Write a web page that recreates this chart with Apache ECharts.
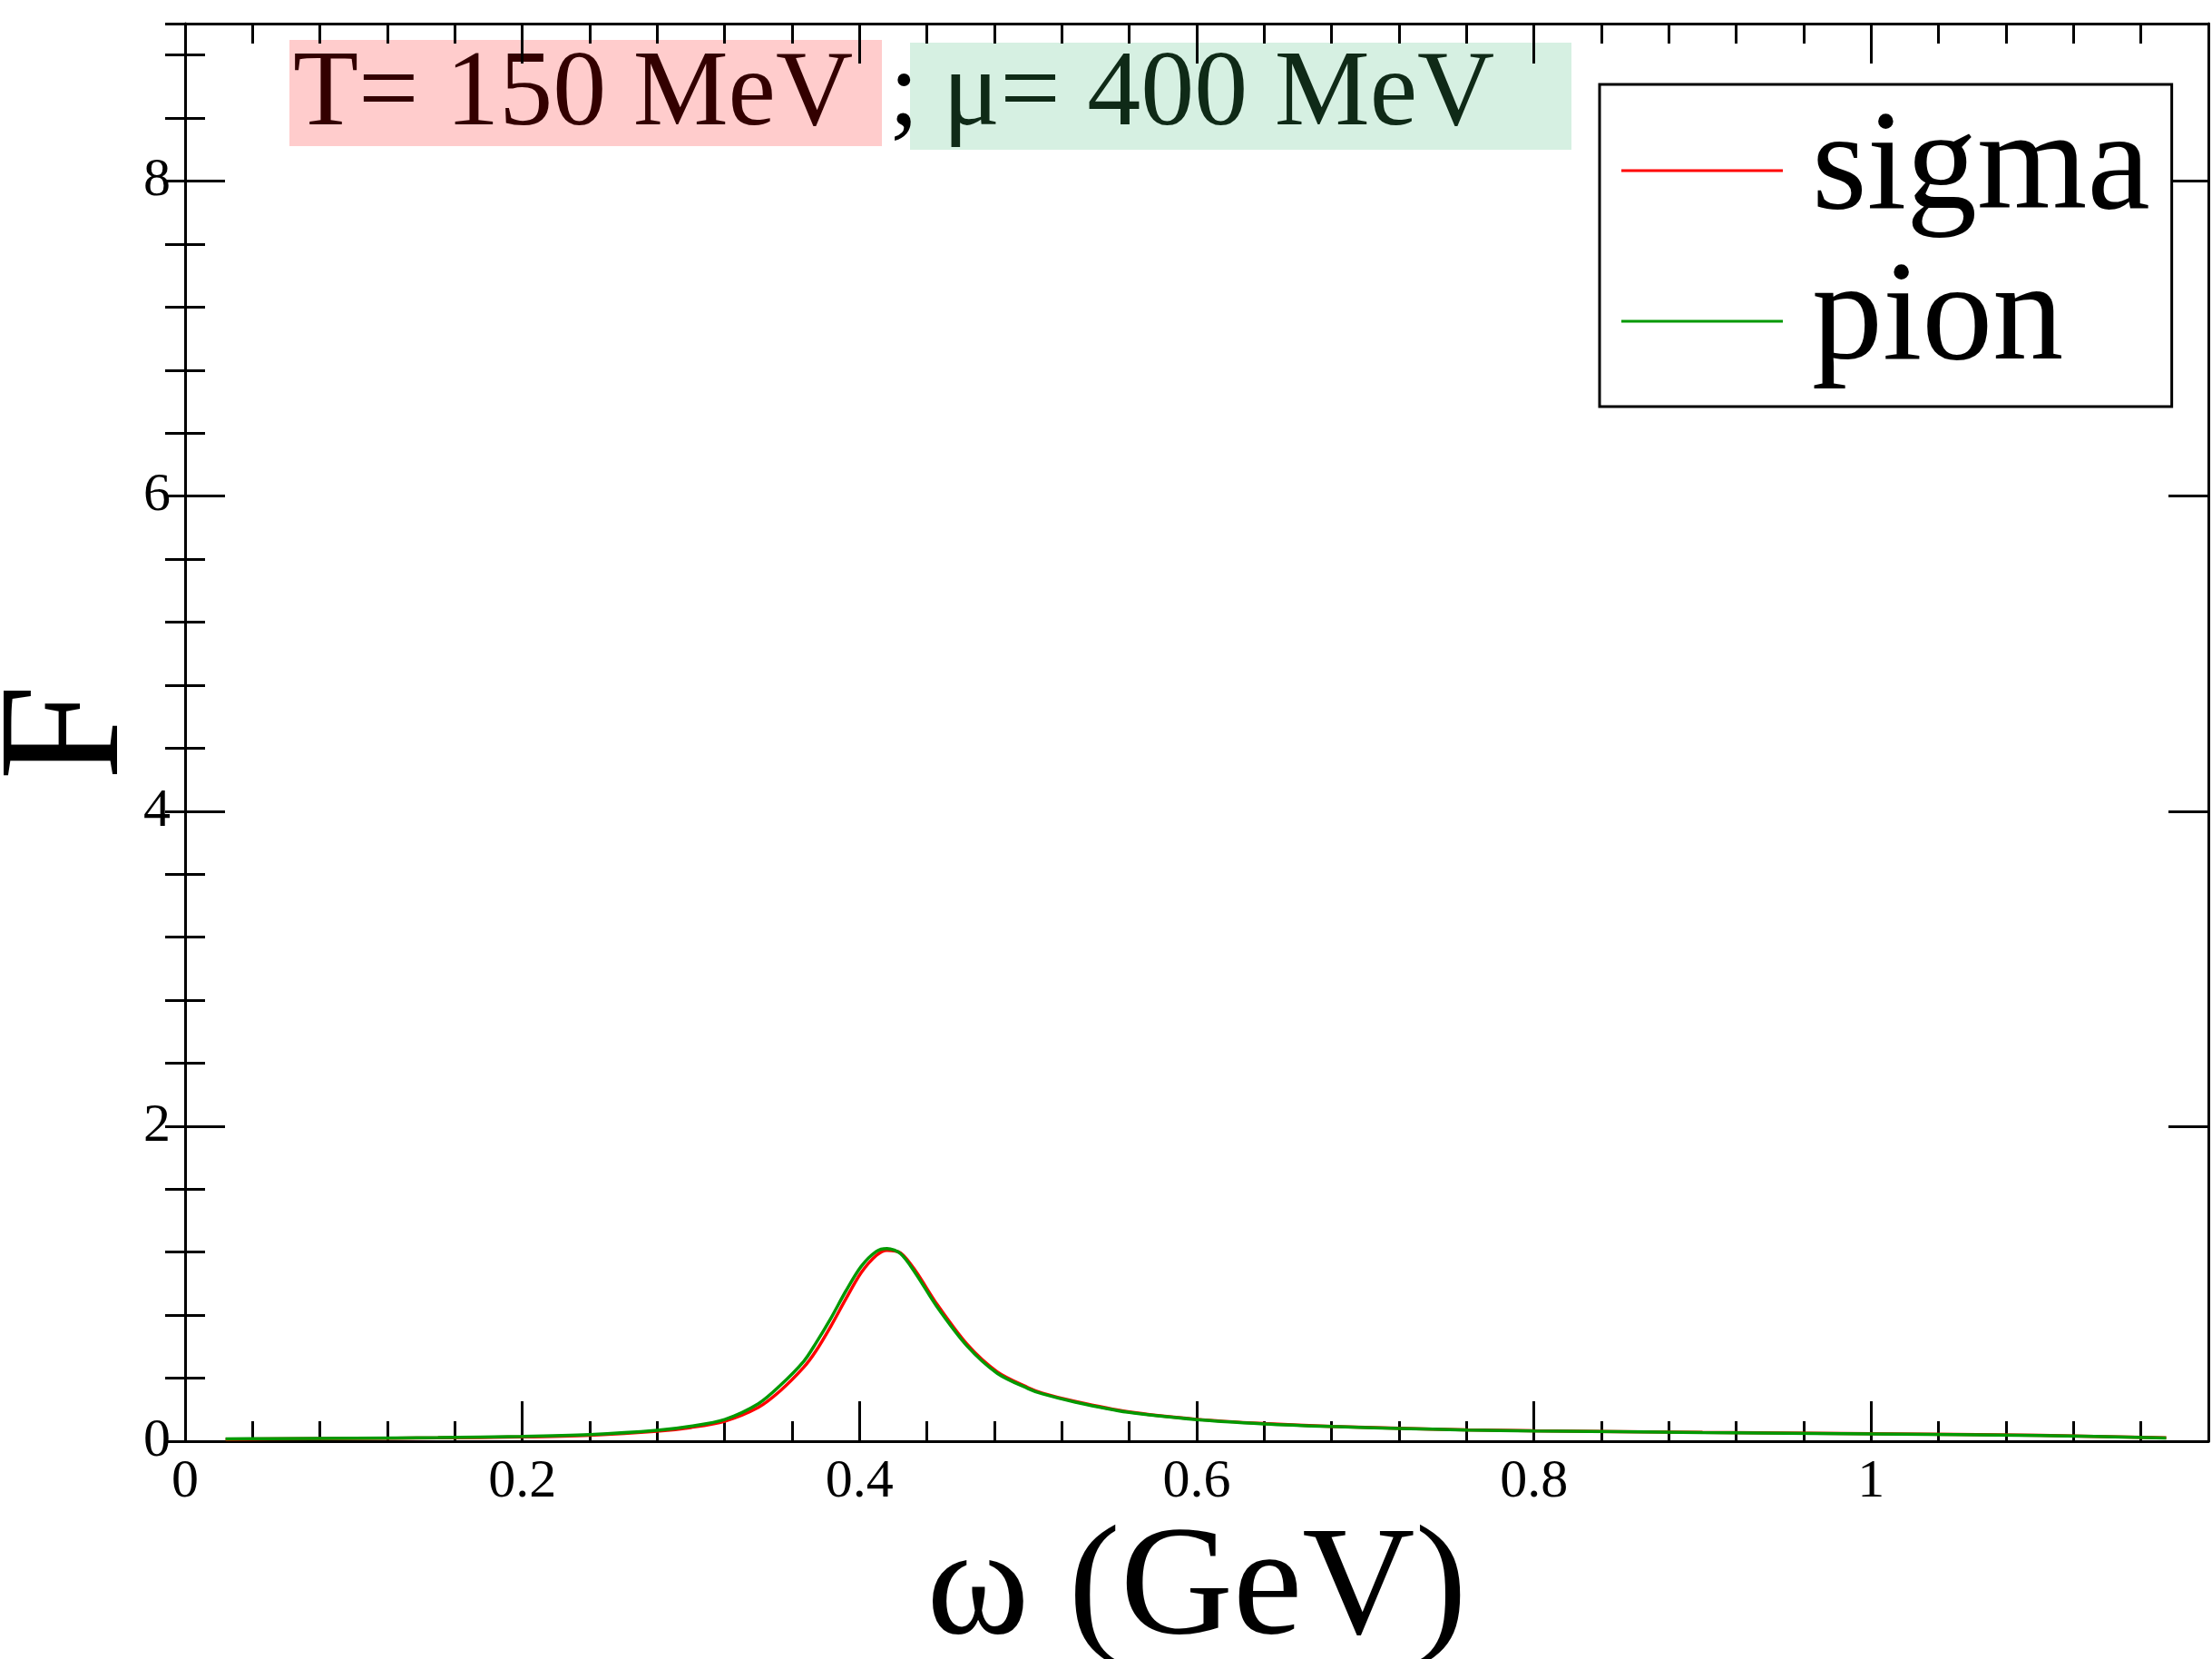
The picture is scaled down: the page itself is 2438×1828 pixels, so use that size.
<!DOCTYPE html>
<html>
<head>
<meta charset="utf-8">
<script src="https://cdn.jsdelivr.net/npm/echarts@6/dist/echarts.min.js"></script>
<style>html,body{margin:0;padding:0;background:#fff}#c{width:2438px;height:1828px}</style>
</head>
<body>
<div id="c"></div>
<script>
var omega = [0.024, 0.05, 0.1, 0.15, 0.2, 0.24, 0.28, 0.30, 0.32, 0.34, 0.353, 0.367, 0.374, 0.383, 0.392, 0.401, 0.410, 0.4163, 0.4244, 0.4333, 0.4459, 0.4638, 0.4817, 0.50, 0.5086, 0.528, 0.559, 0.60, 0.64, 0.68, 0.72, 0.76, 0.80, 0.90, 1.0, 1.1, 1.175];
var sigmaF = [0.012, 0.014, 0.017, 0.021, 0.027, 0.038, 0.063, 0.087, 0.127, 0.215, 0.32, 0.47, 0.57, 0.73, 0.905, 1.07, 1.18, 1.212, 1.195, 1.08, 0.87, 0.615, 0.44, 0.34, 0.305, 0.252, 0.187, 0.139, 0.112, 0.094, 0.082, 0.072, 0.066, 0.056, 0.047, 0.037, 0.021];
var pionF = [0.014, 0.016, 0.019, 0.023, 0.030, 0.042, 0.069, 0.095, 0.138, 0.238, 0.354, 0.508, 0.62, 0.78, 0.955, 1.11, 1.205, 1.223, 1.19, 1.065, 0.854, 0.604, 0.431, 0.334, 0.30, 0.248, 0.184, 0.137, 0.110, 0.093, 0.081, 0.071, 0.065, 0.055, 0.046, 0.036, 0.020];
var seriesNames = ['sigma', 'pion'];
var xTitle = 'ω (GeV)';
var yTitle = 'F';
var noteT = 'T= 150 MeV';
var noteMu = 'μ= 400 MeV';

function pairs(xs, ys) { return xs.map(function (x, i) { return [x, ys[i]]; }); }

var FONT = 'Liberation Serif, Times New Roman, serif';
var chart = echarts.init(document.getElementById('c'), null, { renderer: 'canvas' });
var lineAx = { show: true, onZero: false, lineStyle: { color: '#000', width: 3 } };
chart.setOption({
  animation: false,
  backgroundColor: '#fff',
  grid: { left: 204, right: 4, top: 26, bottom: 240, containLabel: false, outerBoundsMode: 'none' },
  legend: {
    data: seriesNames,
    orient: 'vertical',
    left: 1763, top: 93,
    padding: [12, 24, 11, 24],
    itemGap: 0,
    icon: 'rect',
    itemWidth: 178, itemHeight: 3,
    borderColor: '#000', borderWidth: 3,
    backgroundColor: '#fff',
    textStyle: { fontFamily: FONT, fontSize: 156, color: '#000', lineHeight: 166, padding: [0, 0, 0, 27] }
  },
  xAxis: [
    { type: 'value', position: 'bottom', min: 0, max: 1.2, interval: 0.2,
      axisLine: lineAx,
      axisTick: { show: true, inside: true, length: 44, lineStyle: { color: '#000', width: 3 } },
      minorTick: { show: true, splitNumber: 5, length: 22, lineStyle: { color: '#000', width: 3 } },
      axisLabel: { show: true, margin: 15, fontFamily: FONT, fontSize: 60, color: '#000', showMaxLabel: false },
      splitLine: { show: false },
      name: xTitle, nameLocation: 'middle', nameGap: 54,
      nameTextStyle: { fontFamily: FONT, fontSize: 172, color: '#000' } },
    { type: 'value', position: 'top', min: 0, max: 1.2, interval: 0.2,
      axisLine: lineAx,
      axisTick: { show: true, inside: true, length: 44, lineStyle: { color: '#000', width: 3 } },
      minorTick: { show: true, splitNumber: 5, length: 22, lineStyle: { color: '#000', width: 3 } },
      axisLabel: { show: false }, splitLine: { show: false } }
  ],
  yAxis: [
    { type: 'value', position: 'left', min: 0, max: 9, interval: 2,
      axisLine: lineAx,
      axisTick: { show: true, inside: true, length: 44, lineStyle: { color: '#000', width: 3 } },
      axisLabel: { show: true, margin: 16, fontFamily: FONT, fontSize: 60, color: '#000', showMaxLabel: false },
      splitLine: { show: false },
      name: yTitle, nameLocation: 'middle', nameGap: 30, nameRotate: 90, nameMoveOverlap: false,
      nameTextStyle: { fontFamily: FONT, fontSize: 190, color: '#000' } },
    { type: 'value', position: 'left', min: 0, max: 9, interval: 0.4,
      axisLine: { show: false },
      axisTick: { show: true, inside: true, length: 22, lineStyle: { color: '#000', width: 3 } },
      axisLabel: { show: false }, splitLine: { show: false } },
    { type: 'value', position: 'right', min: 0, max: 9, interval: 2,
      axisLine: lineAx,
      axisTick: { show: true, inside: true, length: 44, lineStyle: { color: '#000', width: 3 } },
      axisLabel: { show: false }, splitLine: { show: false } },
    { type: 'value', position: 'right', min: 0, max: 9, interval: 0.4,
      axisLine: { show: false },
      axisTick: { show: true, inside: true, length: 22, lineStyle: { color: '#000', width: 3 } },
      axisLabel: { show: false }, splitLine: { show: false } }
  ],
  series: [
    { name: seriesNames[0], type: 'line', xAxisIndex: 0, yAxisIndex: 0, data: pairs(omega, sigmaF),
      showSymbol: false, symbol: 'none', smooth: 0.3, color: '#ff0000', lineStyle: { color: '#ff0000', width: 3.5 }, z: 3 },
    { name: seriesNames[1], type: 'line', xAxisIndex: 0, yAxisIndex: 0, data: pairs(omega, pionF),
      showSymbol: false, symbol: 'none', smooth: 0.3, color: '#009900', lineStyle: { color: '#009900', width: 3.5 }, z: 4 }
  ],
  graphic: [
    { type: 'rect', left: 319, top: 44, shape: { width: 653, height: 117 }, style: { fill: '#ffcccc' }, z: -3 },
    { type: 'text', x: 323, y: 106, style: { text: noteT, font: '118px ' + FONT, fill: '#330000', verticalAlign: 'middle' }, z: -2 },
    { type: 'text', x: 980, y: 106, style: { text: ';', font: '118px ' + FONT, fill: '#000', verticalAlign: 'middle' }, z: -2 },
    { type: 'rect', left: 1003, top: 47, shape: { width: 729, height: 118 }, style: { fill: '#d6f0e2' }, z: -3 },
    { type: 'text', x: 1039, y: 106, style: { text: noteMu, font: '118px ' + FONT, fill: '#0f2a17', verticalAlign: 'middle' }, z: -2 }
  ]
});
</script>
</body>
</html>
